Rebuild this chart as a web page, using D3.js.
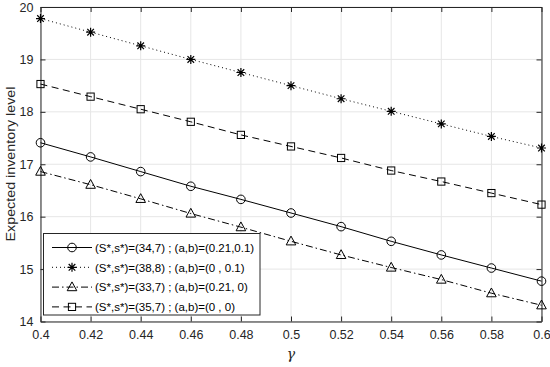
<!DOCTYPE html>
<html><head><meta charset="utf-8">
<script src="https://cdn.jsdelivr.net/npm/d3@7"></script>
<style>body{margin:0;background:#fff}svg{display:block;font-family:"Liberation Sans",Arial,sans-serif}</style>
</head><body><svg id="c" width="550" height="367"></svg>
<script>
const gammas = [0.40,0.42,0.44,0.46,0.48,0.50,0.52,0.54,0.56,0.58,0.60];
const seriesCircle = [17.41,17.14,16.86,16.58,16.33,16.07,15.81,15.53,15.27,15.02,14.77];
const seriesStar   = [19.78,19.52,19.26,19.00,18.75,18.50,18.25,18.01,17.77,17.53,17.31];
const seriesTri    = [16.86,16.61,16.34,16.06,15.80,15.53,15.27,15.03,14.80,14.54,14.31];
const seriesSquare = [18.53,18.29,18.05,17.81,17.56,17.34,17.12,16.88,16.67,16.45,16.23];
const legendLabels = ["(S*,s*)=(34,7) ; (a,b)=(0.21,0.1)","(S*,s*)=(38,8) ; (a,b)=(0 , 0.1)","(S*,s*)=(33,7) ; (a,b)=(0.21, 0)","(S*,s*)=(35,7) ; (a,b)=(0 , 0)"];
const xTicks = [0.4,0.42,0.44,0.46,0.48,0.5,0.52,0.54,0.56,0.58,0.6];
const yTicks = [14,15,16,17,18,19,20];

const series = [
  {vals: seriesCircle, marker: "circle", dash: null},
  {vals: seriesStar, marker: "star", dash: "1,3"},
  {vals: seriesTri, marker: "triangle", dash: "7,3,1.5,3"},
  {vals: seriesSquare, marker: "square", dash: "7,4.5"}
];

const svg = d3.select("#c");
const L=40.5, R=541.5, T=7, B=321.5;
const x = d3.scaleLinear().domain([0.4,0.6]).range([L,R]);
const y = d3.scaleLinear().domain([14,20]).range([B,T]);
const axisColor="#262626";

// grid
const g = svg.append("g");
g.selectAll(".gx").data(xTicks).join("line").attr("x1",d=>x(d)).attr("x2",d=>x(d)).attr("y1",T).attr("y2",B).attr("stroke","#e6e6e6").attr("stroke-width",1);
g.selectAll(".gy").data(yTicks).join("line").attr("y1",d=>y(d)).attr("y2",d=>y(d)).attr("x1",L).attr("x2",R).attr("stroke","#e6e6e6").attr("stroke-width",1);

// axes
const fmt = d => String(+d.toFixed(2));
const ax = svg.append("g").attr("transform",`translate(0,${B})`).call(d3.axisBottom(x).tickValues(xTicks).tickFormat(fmt).tickSizeInner(-5).tickSizeOuter(0).tickPadding(9));
const ay = svg.append("g").attr("transform",`translate(${L},0)`).call(d3.axisLeft(y).tickValues(yTicks).tickFormat(d3.format("d")).tickSizeInner(-5).tickSizeOuter(0).tickPadding(7));
const axT = svg.append("g").attr("transform",`translate(0,${T})`).call(d3.axisTop(x).tickValues(xTicks).tickFormat("").tickSizeInner(-5).tickSizeOuter(0));
const ayR = svg.append("g").attr("transform",`translate(${R},0)`).call(d3.axisRight(y).tickValues(yTicks).tickFormat("").tickSizeInner(-5).tickSizeOuter(0));
[ax,ay,axT,ayR].forEach(a=>{
  a.selectAll("path").attr("stroke",axisColor).attr("stroke-width",1);
  a.selectAll("line").attr("stroke",axisColor);
  a.selectAll("text").attr("fill",axisColor).attr("font-size",12.5);
});

svg.append("text").attr("x",291).attr("y",359).attr("text-anchor","middle").attr("font-size",14).attr("fill",axisColor).attr("font-family","DejaVu Serif, serif").attr("font-style","italic").text("γ");
svg.append("text").attr("transform","translate(15,164) rotate(-90)").attr("text-anchor","middle").attr("font-size",13).attr("fill",axisColor)
  .attr("textLength",155).attr("lengthAdjust","spacingAndGlyphs").text("Expected inventory level");

function drawMarker(sel, type, cx, cy){
  const s = sel.append("g").attr("transform",`translate(${cx},${cy})`).attr("fill","none").attr("stroke","#000").attr("stroke-width",1);
  if(type==="circle") s.append("circle").attr("r",4.3);
  else if(type==="square") s.append("rect").attr("x",-3.6).attr("y",-3.6).attr("width",7.2).attr("height",7.2);
  else if(type==="triangle") s.append("path").attr("d","M0,-5.2L4.8,3.6L-4.8,3.6Z");
  else if(type==="star"){
    const r=4.5, d=3.3;
    s.append("path").attr("d",`M${-r},0L${r},0M0,${-r}L0,${r}M${-d},${-d}L${d},${d}M${-d},${d}L${d},${-d}`).attr("stroke-width",1.2);
  }
}

const line = d3.line().x((d,i)=>x(gammas[i])).y(d=>y(d));
series.forEach(s=>{
  svg.append("path").attr("d",line(s.vals)).attr("fill","none").attr("stroke","#000").attr("stroke-width",1).attr("stroke-dasharray",s.dash);
  s.vals.forEach((v,i)=>drawMarker(svg, s.marker, x(gammas[i]), y(v)));
});

// legend
const lg = svg.append("g");
lg.append("rect").attr("x",43.5).attr("y",233.5).attr("width",216.5).attr("height",81.5).attr("fill","#fff").attr("stroke",axisColor).attr("stroke-width",1);
series.forEach((s,i)=>{
  const yy = 247.5 + i*19.8;
  lg.append("line").attr("x1",52).attr("x2",92).attr("y1",yy).attr("y2",yy).attr("stroke","#000").attr("stroke-width",1).attr("stroke-dasharray",s.dash);
  drawMarker(lg, s.marker, 72, yy);
  lg.append("text").attr("x",95).attr("y",yy+4.2).attr("font-size",11.5).attr("fill","#000").text(legendLabels[i]);
});
</script></body></html>
